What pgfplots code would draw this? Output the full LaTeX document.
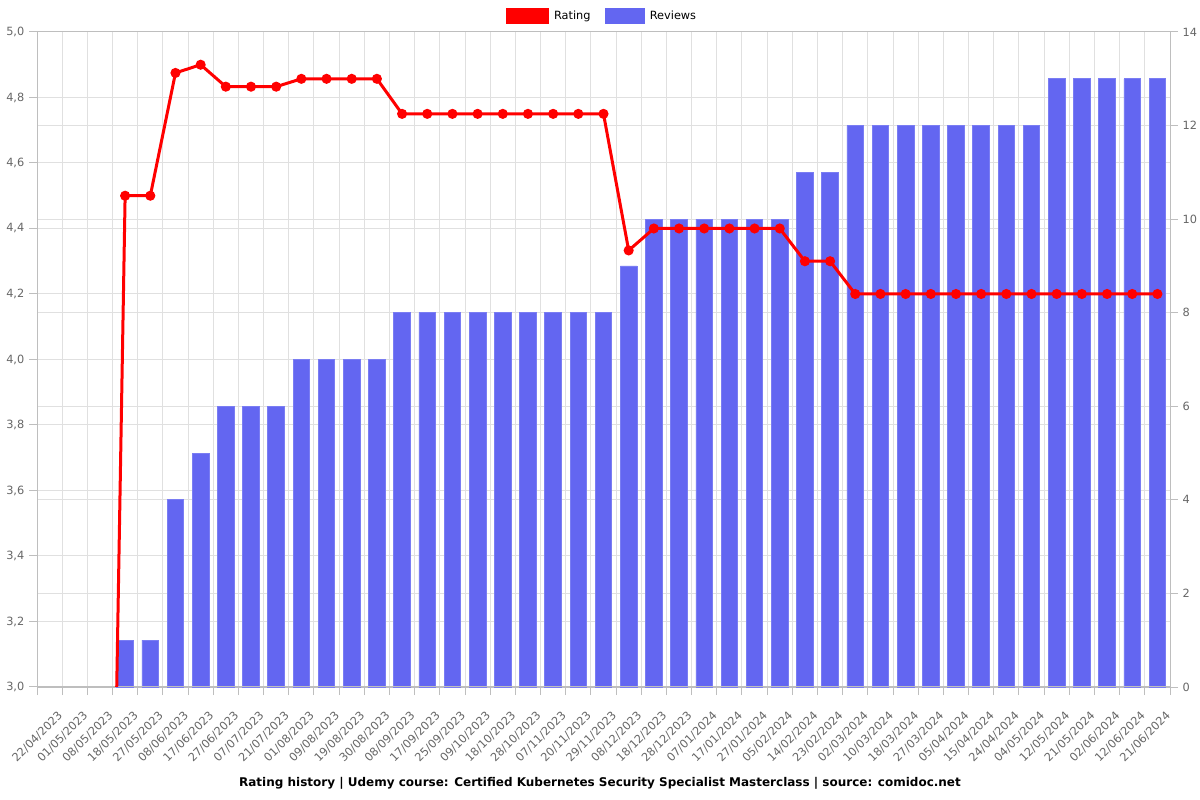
\documentclass[border=0pt]{standalone}
\usepackage{pgfplots}
\usepackage{pgfplotstable}
\pgfplotsset{compat=1.18}
\usepackage{fontspec}
\setmainfont{DejaVu Sans}
\definecolor{barblue}{RGB}{99,102,241}
\definecolor{ticklab}{RGB}{102,102,102}
\definecolor{gridc}{RGB}{224,224,224}
\definecolor{axisc}{RGB}{190,190,190}

\pgfplotstableread{
x reviews rating
0 0 0
1 0 0
2 0 0
3 1 4.5
4 1 4.5
5 4 4.875
6 5 4.9
7 6 4.833
8 6 4.833
9 6 4.833
10 7 4.857
11 7 4.857
12 7 4.857
13 7 4.857
14 8 4.75
15 8 4.75
16 8 4.75
17 8 4.75
18 8 4.75
19 8 4.75
20 8 4.75
21 8 4.75
22 8 4.75
23 9 4.333
24 10 4.4
25 10 4.4
26 10 4.4
27 10 4.4
28 10 4.4
29 10 4.4
30 11 4.3
31 11 4.3
32 12 4.2
33 12 4.2
34 12 4.2
35 12 4.2
36 12 4.2
37 12 4.2
38 12 4.2
39 12 4.2
40 13 4.2
41 13 4.2
42 13 4.2
43 13 4.2
44 13 4.2
}\data

\pgfplotsset{common/.style={
  at={(27.75pt,84.75pt)}, anchor=south west, scale only axis,
  width=849.75pt, height=491.25pt, xmin=-0.5, xmax=44.5,
  axis line style={axisc, line width=0.75pt},
  tick align=outside, major tick length=6pt, minor tick length=6pt,
  tick style={axisc, line width=0.75pt},
  every tick label/.append style={font=\fontsize{8.5}{10}\selectfont, text=ticklab},
  /pgf/number format/assume math mode=true,
}}

\begin{document}
\begin{tikzpicture}
\begin{axis}[common,
  ymin=0, ymax=14, ytick={0,2,4,6,8,10,12,14},
  ytick pos=right, yticklabel pos=right,
  ymajorgrids, major grid style={gridc, line width=0.75pt},
  extra y ticks={1.4,2.8,4.2,5.6,7,8.4,9.8,11.2,12.6},
  extra y tick labels={},
  extra y tick style={grid=major, major tick length=0pt},
  xtick={0,...,44}, xtick pos=bottom,
  major x tick style={draw=none},
  minor xtick={-0.5,0.5,...,44.5},
  xminorgrids, minor grid style={gridc, line width=0.75pt},
  xticklabels={22/04/2023,01/05/2023,08/05/2023,18/05/2023,27/05/2023,08/06/2023,17/06/2023,27/06/2023,07/07/2023,21/07/2023,01/08/2023,09/08/2023,19/08/2023,30/08/2023,08/09/2023,17/09/2023,25/09/2023,09/10/2023,18/10/2023,28/10/2023,07/11/2023,20/11/2023,29/11/2023,08/12/2023,18/12/2023,28/12/2023,07/01/2024,17/01/2024,27/01/2024,05/02/2024,14/02/2024,23/02/2024,02/03/2024,10/03/2024,18/03/2024,27/03/2024,05/04/2024,15/04/2024,24/04/2024,04/05/2024,12/05/2024,21/05/2024,02/06/2024,12/06/2024,21/06/2024},
  xticklabel style={rotate=45, anchor=north east, inner sep=0pt, xshift=-4pt, yshift=-12pt},
]
\addplot[ybar, bar width=0.66, fill=barblue, draw=barblue!85!white, line width=0.6pt,
  restrict y to domain=0.5:100] table[x=x, y=reviews]{\data};
\end{axis}
\begin{axis}[common,
  ymin=3, ymax=5, ytick={3,3.2,3.4,3.6,3.8,4,4.2,4.4,4.6,4.8,5},
  ytick pos=left,
  yticklabel style={/pgf/number format/.cd, fixed, fixed zerofill, precision=1, use comma},
  xtick=\empty,
  legend style={draw=none, fill=none, at={(0.5,1.0244)}, anchor=center,
    legend columns=2, font=\fontsize{8.5}{10}\selectfont,
    /tikz/every even column/.append style={column sep=7pt},
    nodes={inner xsep=4pt}},
]
\addplot[red, line width=2.25pt, mark=*, mark size=2.6pt, forget plot]
  table[x=x, y=rating]{\data};
\addlegendimage{legend image code/.code={\fill[red] (0pt,-5.6pt) rectangle (32pt,5.6pt);}}
\addlegendentry{Rating}
\addlegendimage{legend image code/.code={\fill[barblue] (0pt,-5.6pt) rectangle (29pt,5.6pt);}}
\addlegendentry{Reviews}
\end{axis}
\node[font=\bfseries\fontsize{9}{11}\selectfont] at (450pt,12.75pt)
  {Rating history | Udemy course: Certified Kubernetes Security Specialist Masterclass | source: comidoc.net};
\pgfresetboundingbox
\path[use as bounding box] (0,0) rectangle (900pt,600pt);
\end{tikzpicture}
\end{document}
